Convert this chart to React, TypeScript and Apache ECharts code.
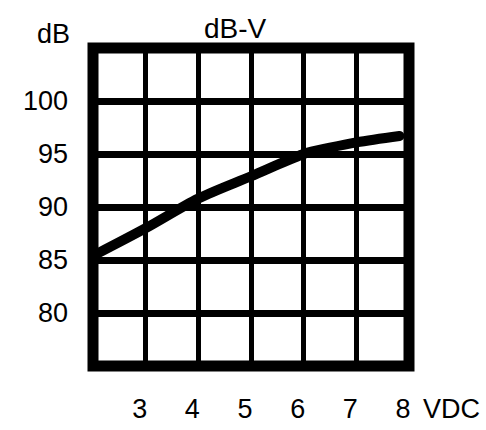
import React, { useEffect, useRef } from "react";
import * as echarts from "echarts";

const voltage = [2.08, 3, 4, 5, 6, 6.5, 7, 7.82];
const decibels = [85.6, 88.0, 90.8, 92.9, 95.0, 95.6, 96.1, 96.7];
const xTicks = [2, 3, 4, 5, 6, 7, 8];
const yTicks = [75, 80, 85, 90, 95, 100, 105];
const titleText = "dB-V";
const yName = "dB";
const xName = "VDC";

const FONT = "'Liberation Sans', Arial, sans-serif";
const FS = 27;

export default function App() {
  const ref = useRef<HTMLDivElement>(null);
  useEffect(() => {
    if (!ref.current) return;
    const chart = echarts.init(ref.current, undefined, { renderer: "svg" });
    const data = voltage.map((v, i) => [v, decibels[i]]);
    chart.setOption({
      animation: false,
      backgroundColor: "#fff",
      title: {
        text: titleText,
        left: 199,
        top: 9,
        textStyle: { fontFamily: FONT, fontSize: FS + 1, fontWeight: "normal", color: "#000" },
      },
      grid: {
        left: 93,
        top: 48,
        width: 316,
        height: 318,
        show: true,
        borderColor: "#000",
        borderWidth: 11,
        backgroundColor: "#fff",
      },
      xAxis: {
        type: "value",
        min: xTicks[0],
        max: xTicks[xTicks.length - 1],
        interval: 1,
        name: xName,
        nameLocation: "end",
        nameGap: 14,
        nameTextStyle: {
          fontFamily: FONT,
          fontSize: FS,
          color: "#000",
          align: "left",
          verticalAlign: "top",
          padding: [29, 0, 0, 0],
        },
        axisLine: { show: false },
        axisTick: { show: false },
        axisLabel: {
          margin: 29,
          fontFamily: FONT,
          fontSize: FS,
          color: "#000",
          padding: [0, 12, 0, 0],
          formatter: (v: number) => (v === xTicks[0] ? "" : String(v)),
        },
        splitLine: { show: true, lineStyle: { color: "#000", width: 5 } },
      },
      yAxis: {
        type: "value",
        min: yTicks[0],
        max: yTicks[yTicks.length - 1],
        interval: 5,
        name: yName,
        nameLocation: "end",
        nameGap: 1,
        nameTextStyle: {
          fontFamily: FONT,
          fontSize: FS,
          color: "#000",
          align: "right",
          padding: [0, 23, 0, 0],
        },
        axisLine: { show: false },
        axisTick: { show: false },
        axisLabel: {
          margin: 25,
          fontFamily: FONT,
          fontSize: FS,
          color: "#000",
          padding: [8, 0, 0, 0],
          showMinLabel: false,
          showMaxLabel: false,
        },
        splitLine: { show: true, lineStyle: { color: "#000", width: 7 } },
      },
      series: [
        {
          type: "line",
          data,
          smooth: 0.3,
          symbol: "none",
          lineStyle: { color: "#000", width: 10, cap: "round" },
        },
      ],
    });
    return () => chart.dispose();
  }, []);
  return <div ref={ref} style={{ width: 486, height: 430, position: "fixed", left: 0, top: 0 }} />;
}
